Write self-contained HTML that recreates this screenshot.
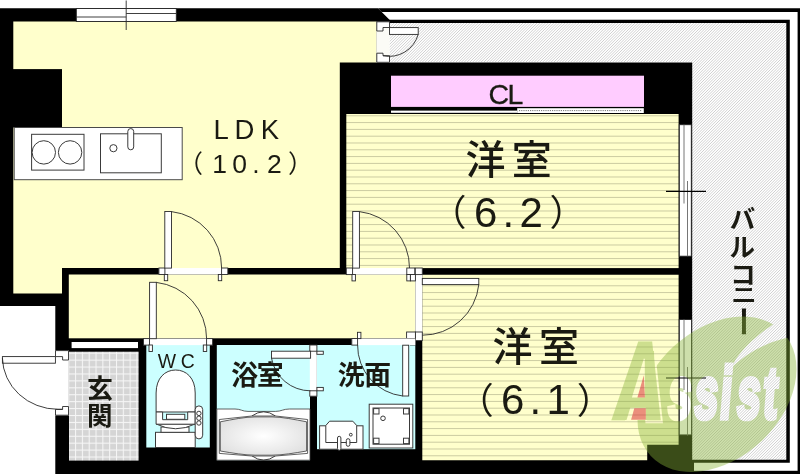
<!DOCTYPE html>
<html lang="ja">
<head>
<meta charset="utf-8">
<title>間取り図</title>
<style>
html,body{margin:0;padding:0;background:#fff;}
body{width:800px;height:474px;overflow:hidden;position:relative;font-family:"Liberation Sans","Noto Sans CJK JP",sans-serif;}
svg{display:block;position:absolute;left:0;top:0;}
text{font-family:"Liberation Sans","Noto Sans CJK JP",sans-serif;fill:#1a1a12;}
.ln{fill:none;stroke:#2a2a2a;stroke-width:0.9;}
.bx{fill:#fff;stroke:#2a2a2a;stroke-width:0.9;}
.fx{fill:#fff;stroke:#3a3a3a;stroke-width:1;}
.lg{font-family:"Liberation Sans",sans-serif;font-weight:bold;font-style:italic;}
.la{font-family:"Liberation Sans",sans-serif;font-weight:bold;}
</style>
</head>
<body>
<svg width="800" height="474" viewBox="0 0 800 474">
<defs>
  <pattern id="hatch" width="14" height="14" patternUnits="userSpaceOnUse" x="0" y="0">
    <rect width="14" height="14" fill="#fff"/>
    <path d="M-1 1.00 L1.00 -1 M-1 3.80 L3.80 -1 M-1 6.60 L6.60 -1 M-1 9.40 L9.40 -1 M-1 12.20 L12.20 -1 M-1 15.00 L15.00 -1 M-1 17.80 L17.80 -1 M-1 20.60 L20.60 -1 M-1 23.40 L23.40 -1 M-1 26.20 L26.20 -1 M-1 29.00 L29.00 -1" stroke="#cbcbcb" stroke-width="0.9" fill="none"/>
  </pattern>
  <pattern id="floor" width="10" height="6.8" patternUnits="userSpaceOnUse" y="122.1">
    <rect width="10" height="6.8" fill="#ffffcc"/>
    <rect y="0" width="10" height="0.85" fill="#c3c39a"/>
  </pattern>
  <pattern id="tile" width="6.82" height="6.92" patternUnits="userSpaceOnUse" x="68.24" y="345.78">
    <rect width="6.82" height="6.92" fill="#f6f6f6"/>
    <rect x="1.05" y="1.05" width="5.77" height="5.87" fill="#d5d5d5"/>
  </pattern>
  <radialGradient id="tub" cx="0.5" cy="0.5" r="0.6">
    <stop offset="0" stop-color="#ffffff"/>
    <stop offset="1" stop-color="#e0e0e0"/>
  </radialGradient>
  <mask id="wm" maskUnits="userSpaceOnUse" x="600" y="300" width="200" height="174">
    <rect x="600" y="300" width="200" height="174" fill="#000"/>
    <ellipse cx="717" cy="394.3" rx="90.5" ry="64.6" transform="rotate(-43 717 394.3)" fill="#fff"/>
    <path d="M732 367 C736 356 752 337 780 320 L800 336 C775 338 752 349 732 367 Z" fill="#000"/>
    <text class="la" transform="translate(598.6 418.2) skewX(-5) scale(0.575 1)" font-size="72.9" x="118.3 164.0 208.7 238.1 283.8" style="fill:#000;stroke:#000;stroke-width:4.3" vector-effect="non-scaling-stroke">ssist</text>
    <text class="la" transform="translate(612.89 417.20) skewX(-6.6) scale(0.618 1)" font-size="105.1" style="fill:#000;stroke:#000;stroke-width:10.4;stroke-linejoin:miter" vector-effect="non-scaling-stroke">A</text>
    <path d="M619 419.9 L637.5 351 H654 L656 419.9 Z" fill="#000"/>
  </mask>
  <mask id="wa" maskUnits="userSpaceOnUse" x="600" y="300" width="200" height="174">
    <rect x="600" y="300" width="200" height="174" fill="#000"/>
    <text class="la" transform="translate(612.89 417.20) skewX(-6.6) scale(0.618 1)" font-size="105.1" style="fill:#fff;stroke:#fff;stroke-width:5.4;stroke-linejoin:miter" vector-effect="non-scaling-stroke">A</text>
    <path d="M619 419.9 L637.5 351 H654 L656 419.9 Z" fill="#fff"/>
    <path d="M643.8 358.7 H644.8 V397.5 H631.9 Z M630.3 407.8 H645.8 V421 H626.2 Z" fill="#000"/>
  </mask>
</defs>
<rect width="800" height="474" fill="#fff"/>

<!-- balcony -->
<g id="balcony">
  <path d="M389.5 22 H787 V460 H692 V62 H389.5 Z" fill="url(#hatch)"/>
  <path d="M378 8.2 H800 V474 H797.6 V11.9 H381.7 Z" fill="#000"/>
  <rect x="692" y="470.8" width="108" height="4" fill="#000"/>
  <path d="M386 19.8 H789.8 V462.8 H692 V459.7 H786.3 V23 H389.5 Z" fill="#000"/>
</g>

<!-- walls (black footprint) -->
<path id="walls" d="M0 8.2 H378 L389.5 19.8 V22 H376.5 V62.5 H692.2 V460 H694 V474 H55.3 V306 H0 Z" fill="#000"/>

<!-- rooms -->
<g id="rooms">
  <path d="M13.3 21.6 H376.5 V62.5 H339.8 V268 H62 V293.4 H13.3 Z" fill="#ffffcc"/>
  <rect x="0" y="69.1" width="62" height="58.4" fill="#000"/>
  <rect x="68.8" y="274.5" width="346.5" height="63.8" fill="#ffffcc"/>
  <rect x="346.3" y="114" width="332.3" height="154.1" fill="url(#floor)"/>
  <path d="M422.3 274.7 H678.6 V444.7 H647.2 V460.3 H422.3 Z" fill="url(#floor)"/>
  <rect x="391" y="75.7" width="253" height="31.2" fill="#ffccff"/>
  <rect x="69" y="351.7" width="69.6" height="108.9" fill="url(#tile)"/>
  <rect x="146.3" y="345" width="63.5" height="102.5" fill="#ccffff"/>
  <rect x="216.8" y="345" width="93.2" height="115.2" fill="#ccffff"/>
  <rect x="317" y="345" width="98.3" height="104.2" fill="#ccffff"/>
</g>

<!-- windows -->
<g id="windows">
  <!-- top window -->
  <rect x="76.3" y="8.5" width="100" height="13" fill="#fff" stroke="#222" stroke-width="0.9"/>
  <path d="M76.3 17 H126.2 M126.2 13.5 H176.3" class="ln"/>
  <path d="M126.2 0.5 V30" class="ln" stroke-width="1"/>
  <!-- bedroom 1 window -->
  <rect x="679.3" y="124.7" width="12" height="131.5" fill="#fff" stroke="#222" stroke-width="0.9"/>
  <path d="M684 124.7 V203.5 M687.5 181 V256.2" class="ln" style="stroke:#666"/>
  <path d="M666 191.4 H706" class="ln" style="stroke:#000;stroke-width:1.1"/>
  <!-- bedroom 2 window -->
  <rect x="679.3" y="319.5" width="12.3" height="115.4" fill="#fff" stroke="#222" stroke-width="0.9"/>
  <path d="M684 319.5 V390 M687.5 367 V435.5" class="ln" style="stroke:#666"/>
  <path d="M666 378 H706" class="ln" style="stroke:#000;stroke-width:1.1"/>
  <!-- closet sliding door -->
  <rect x="391" y="110.6" width="126.2" height="2.2" fill="#fff"/>
  <rect x="517.2" y="108.2" width="126.6" height="4.8" fill="#fff"/>
  <path d="M519 110.6 H642" stroke="#777" stroke-width="1" stroke-dasharray="1.2 1" fill="none"/>
</g>

<!-- doors -->
<g id="doors">
  <!-- balcony door (LDK top-right) -->
  <rect x="376.5" y="21.8" width="13" height="40.7" fill="#fbfbf6"/>
  <path d="M376.8 21.8 H389.5 V27.5 H383 V31 H376.8 Z" class="bx"/>
  <path d="M376.8 62.3 H389.5 V55.7 H383 V53.2 H376.8 Z" class="bx"/>
  <rect x="389.5" y="27.6" width="28.7" height="6.8" class="bx"/>
  <path d="M418.2 34.4 A30 30 0 0 1 383 55.7" class="ln"/>
  <!-- LDK to hall door -->
  <rect x="158.9" y="268" width="68.9" height="6.5" fill="#fff"/>
  <rect x="158.9" y="268" width="6" height="6.5" class="bx"/>
  <rect x="221.6" y="268" width="6.2" height="6.5" class="bx"/>
  <rect x="164.3" y="274.5" width="3.4" height="6.2" class="bx"/>
  <rect x="218.3" y="274.5" width="3.4" height="6.2" class="bx"/>
  <rect x="164.8" y="211.5" width="6.7" height="56.6" class="bx"/>
  <path d="M171.5 211.6 A56.5 56.5 0 0 1 221.6 268" class="ln"/>
  <!-- hall to WC door -->
  <rect x="143.5" y="338.6" width="69" height="6.5" fill="#fff"/>
  <rect x="143.5" y="338.6" width="6" height="6.5" class="bx"/>
  <rect x="206.6" y="338.6" width="6" height="6.5" class="bx"/>
  <rect x="149" y="345" width="3.4" height="6.5" class="bx"/>
  <rect x="203.3" y="345" width="3.4" height="6.5" class="bx"/>
  <rect x="149.6" y="282.3" width="6.7" height="56.4" class="bx"/>
  <path d="M156.3 282.4 A56.5 56.5 0 0 1 206.6 338.6" class="ln"/>
  <!-- bedroom 1 door -->
  <rect x="346.3" y="268" width="69" height="6.6" fill="#fff"/>
  <rect x="346.3" y="268" width="6.3" height="6.6" class="bx"/>
  <rect x="406.8" y="268" width="8" height="6.6" class="bx"/>
  <rect x="352" y="274.5" width="3.4" height="6.4" class="bx"/>
  <rect x="406.8" y="274.5" width="3.6" height="6.4" class="bx"/>
  <rect x="352.7" y="211.5" width="6.7" height="56.6" class="bx"/>
  <path d="M359.4 211.6 A56.5 56.5 0 0 1 409.5 268" class="ln"/>
  <!-- bedroom 2 door -->
  <rect x="415.3" y="268" width="7" height="72.6" fill="#fff"/>
  <rect x="415.3" y="268" width="7" height="6.6" class="bx"/>
  <rect x="410.4" y="274.5" width="5" height="6.4" class="bx"/>
  <rect x="415.3" y="332" width="7" height="8.6" class="bx"/>
  <rect x="406.6" y="332" width="8.8" height="6.6" class="bx"/>
  <rect x="410.4" y="338.6" width="5" height="6.4" class="bx"/>
  <rect x="422.3" y="278.4" width="56.5" height="6.2" class="bx"/>
  <path d="M478.8 284.6 A56.5 56.5 0 0 1 422.3 335.2" class="ln"/>
  <!-- washroom door -->
  <rect x="351.8" y="338.5" width="63.5" height="6.6" fill="#fff"/>
  <rect x="351.8" y="338.5" width="5.8" height="6.6" class="bx"/>
  <rect x="357.5" y="332.3" width="3.4" height="6.3" class="bx"/>
  <rect x="402.7" y="345.2" width="6" height="50.8" class="bx"/>
  <path d="M357.6 345 A50.8 50.8 0 0 0 402.7 396" class="ln"/>
  <!-- bath door -->
  <rect x="309.8" y="345" width="7.1" height="51.2" fill="#fff"/>
  <rect x="309.8" y="345" width="7.1" height="6.2" class="bx"/>
  <rect x="309.8" y="390.8" width="7.1" height="5.4" class="bx"/>
  <rect x="316.9" y="351.2" width="6.4" height="3.1" class="bx"/>
  <rect x="316.9" y="387.4" width="6.4" height="3.4" class="bx"/>
  <rect x="271.5" y="351.2" width="39.1" height="7" class="bx"/>
  <path d="M271.5 358.2 A39.5 39.5 0 0 0 310.4 390.8" class="ln"/>
  <!-- entrance door -->
  <rect x="54.6" y="350.6" width="14.3" height="64.8" fill="#fff"/>
  <path d="M55.5 350.6 H68.5 V360 H62.6 V356.6 H55.5 Z" class="bx"/>
  <path d="M55.5 415.2 H68.5 V406.5 H62.6 V409.4 H55.5 Z" class="bx"/>
  <rect x="2.4" y="356.6" width="53" height="6.6" class="bx"/>
  <path d="M2.4 358 A55.7 52.3 0 0 0 58 409.3 H62.6" class="ln"/>
  <!-- genkan step -->
  <rect x="71.6" y="342" width="66.4" height="6.1" fill="#fff"/>
</g>

<!-- kitchen -->
<g id="kitchen">
  <rect x="14.2" y="127.5" width="168" height="52.2" fill="#fff" stroke="#4a4a4a" stroke-width="1"/>
  <rect x="31.6" y="134.3" width="52.4" height="35.8" class="fx"/>
  <circle cx="43.8" cy="152.4" r="11.7" class="fx"/>
  <circle cx="70.1" cy="152.4" r="11.7" class="fx"/>
  <rect x="100.5" y="133.8" width="60.8" height="39" class="fx"/>
  <circle cx="113.4" cy="148.2" r="3.6" class="fx"/>
  <rect x="127.8" y="128.6" width="5.9" height="21.2" rx="2.9" class="fx"/>
</g>

<!-- toilet -->
<g id="toilet">
  <rect x="155.5" y="432.3" width="39.7" height="15.2" class="fx"/>
  <rect x="161" y="427" width="28" height="5.3" class="fx"/>
  <path d="M156.1 424 Q175.6 433.5 195.2 424 Z" class="fx"/>
  <path d="M156.1 412 V393 C156.1 378 165 370 175.6 370 C186.3 370 195.2 378 195.2 393 V412 Z" class="fx"/>
  <path d="M156.1 412 H162.6 V419.7 H187.7 V412 H195.2 V424.2 H156.1 Z" class="fx"/>
  <rect x="166.5" y="414.3" width="18.3" height="5" class="fx"/>
  <rect x="195.2" y="405.9" width="7.5" height="33" rx="3.7" class="fx"/>
  <circle cx="198.9" cy="413.4" r="2.2" class="fx"/>
  <circle cx="198.9" cy="418.2" r="2.2" class="fx"/>
  <circle cx="198.9" cy="423" r="2.2" class="fx"/>
</g>

<!-- bath tub -->
<g id="bath">
  <path d="M216.8 409 H235 C241 409 242 411.4 248 411.4 H275.5 C281.5 411.4 283 409 289.4 409 H310 V460.2 H216.8 Z" fill="#fff" stroke="#3a3a3a" stroke-width="0.8"/>
  <path d="M251.8 416 Q263.6 407.6 275.5 416" class="ln"/>
  <path d="M251.8 455.8 Q263.6 464.4 275.5 455.8" class="ln"/>
  <path d="M219.3 419.5 L251.8 416 H275.5 L307.6 419.5 V453.4 L275.5 456 H251.8 L219.3 453.4 Z" fill="#fff" stroke="#3a3a3a" stroke-width="0.8"/>
  <path d="M220.3 421.8 C232 419.6 245 416.9 255 416.9 H272 C282 416.9 295 419.6 306.6 421.8 V451 C295 453 282 455.2 272 455.2 H255 C245 455.2 232 453 220.3 451 Z" fill="url(#tub)" stroke="#3a3a3a" stroke-width="0.8"/>
</g>

<!-- washroom fixtures -->
<g id="wash">
  <rect x="369.2" y="404.2" width="43.6" height="43.8" class="fx"/>
  <rect x="373" y="408" width="36.5" height="36.2" class="fx"/>
  <rect x="373.6" y="408.6" width="5.4" height="5.4" class="fx"/>
  <rect x="403.5" y="408.6" width="5.4" height="5.4" class="fx"/>
  <rect x="373.6" y="438.2" width="5.4" height="5.4" class="fx"/>
  <rect x="403.5" y="438.2" width="5.4" height="5.4" class="fx"/>
  <circle cx="383" cy="418.3" r="2.3" class="fx"/>
  <rect x="319.6" y="425.8" width="43.4" height="23.4" class="fx"/>
  <path d="M325.8 442.5 V425.5 L329.6 421.2 H352.8 L356.7 425.5 V442.5 Z" class="fx"/>
  <rect x="337.5" y="436.3" width="3.4" height="14" rx="1.7" class="fx"/>
  <rect x="346.3" y="438.7" width="3.6" height="7.6" rx="1.8" class="fx"/>
  <circle cx="350.8" cy="434.7" r="1.4" class="fx"/>
</g>

<!-- labels -->
<g id="labels" opacity="0.999">
  <text y="139" font-size="27.5" x="213.5 234.6 260.7">LDK</text>
  <text y="173" font-size="26.5"><tspan x="178" y="173.2" font-size="25">（</tspan><tspan x="212.2 232.2 252.2 267">10.2</tspan><tspan x="288" y="173.2" font-size="25">）</tspan></text>
  <text y="174.1" font-size="40" font-weight="500" x="465.4 511.8">洋室</text>
  <text y="226.8" font-size="42"><tspan x="430.6" y="226.2" font-size="36">（</tspan><tspan x="473.9 502.4 519.5" y="226.8">6.2</tspan><tspan x="549.6" y="226.2" font-size="36">）</tspan></text>
  <text y="361.4" font-size="40" font-weight="500" x="492.5 538.9">洋室</text>
  <text y="414.1" font-size="42"><tspan x="457.7" y="413.5" font-size="36">（</tspan><tspan x="501.0 529.5 546.6" y="414.1">6.1</tspan><tspan x="576.8" y="413.5" font-size="36">）</tspan></text>
  <text y="103.5" font-size="28.5" x="488.6 507.4" style="stroke:#1a1a12;stroke-width:0.3">CL</text>
  <text y="367.5" font-size="19.4" x="157.7 180.7">WC</text>
  <text y="385" font-size="26.8" font-weight="700" x="231.2 256.7">浴室</text>
  <text y="385" font-size="26.8" font-weight="700" x="337.7 364.2">洗面</text>
  <text x="87.1" y="397.5" font-size="26" font-weight="700">玄</text>
  <text x="87" y="424.6" font-size="25.5" font-weight="700">関</text>
  <text x="729.7" y="228.3" font-size="25.5" font-weight="700">バ</text>
  <text x="729.6" y="255.9" font-size="25.5" font-weight="700">ル</text>
  <text x="730.25" y="283.5" font-size="25.5" font-weight="700">コ</text>
  <text font-size="25.5" font-weight="700" transform="translate(731.2 302.3) scale(1 0.82)">ニ</text>
  <text font-size="27" font-weight="700" transform="translate(743.6 321.35) rotate(90) scale(1.176 1) translate(-13.5 10.5)">ー</text>
</g>

<!-- watermark -->
<g id="watermark">
  <g opacity="0.42">
    <rect x="600" y="300" width="200" height="174" fill="#8ab53a" mask="url(#wm)"/>
    <rect x="600" y="300" width="200" height="174" fill="#8ab53a" mask="url(#wa)"/>
  </g>
  <path d="M643.8 375.3 L644.9 397.5 H637.4 Z M634.3 408.2 H645.8 V419.8 H631.1 Z" fill="#d8202c" opacity="0.5"/>
</g>
</svg>
</body>
</html>
